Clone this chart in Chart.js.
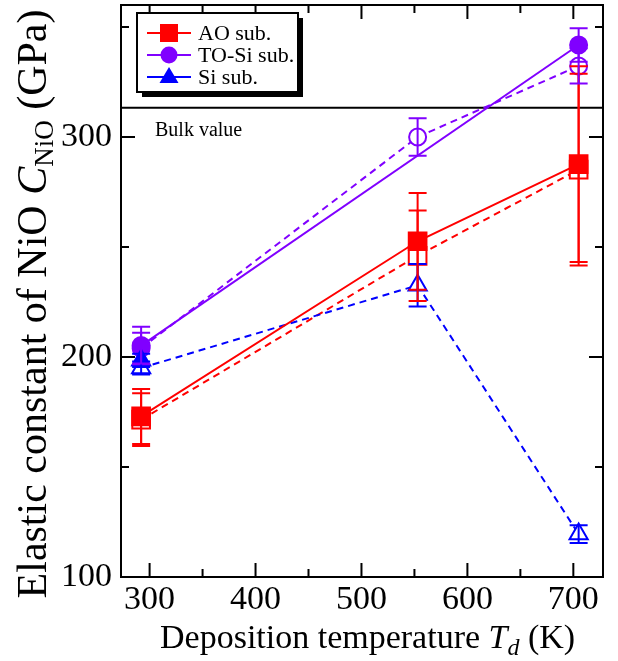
<!DOCTYPE html>
<html>
<head>
<meta charset="utf-8">
<script src="https://cdn.jsdelivr.net/npm/chart.js@4.4.0/dist/chart.umd.min.js"></script>
<style>
  html, body { margin: 0; padding: 0; background: #fff; }
  #wrap { width: 618px; height: 661px; }
</style>
</head>
<body>
<div id="wrap"><canvas id="chartNio" width="618" height="661"></canvas></div>
<script>
// deposition temperatures (K)
const temps = [292, 553, 705];

// elastic constant (GPa) and error, filled = solid line, open = dashed line
const aoFilled = [173, 252.6, 287.7];
const aoFilledErr = [12.5, 22, 44.5];
const aoOpen = [171.5, 246, 285.2];
const aoOpenErr = [12, 20.6, 43.6];

const toFilled = [205.2, null, 341.8];
const toFilledErr = [8.5, null, 7.6];
const toOpen = [204, 300, 332.3];
const toOpenErr = [7, 8.5, 8];

const siFilled = [198.5, null, null];
const siFilledErr = [3, null, null];
const siOpen = [195, 232.6, 119.5];
const siOpenErr = [3, 9.7, 4];

const bulkValue = 313.3;

const xTicks = [300, 400, 500, 600, 700];
const xMinor = [350, 450, 550, 650];
const yTicks = [100, 200, 300];
const yMinor = [150, 250, 350];

const RED = '#ff0000';
const PURPLE = '#8000ff';
const BLUE = '#0000ff';
const SERIF = "'Liberation Serif', 'DejaVu Serif', serif";

const pts = (vals, errs) => temps
  .map((t, i) => ({ x: t, y: vals[i], err: errs[i] }))
  .filter(p => p.y !== null);

const serie = (label, vals, errs, color, style, filled, dashed, order) => ({
  label: label,
  data: pts(vals, errs),
  borderColor: color,
  borderWidth: 2,
  borderDash: dashed ? [7, 5] : [],
  pointStyle: style,
  pointRadius: style === 'rect' ? 12.5 : (style === 'circle' ? 8.5 : 10.5),
  pointBorderWidth: 2,
  pointBorderColor: color,
  pointBackgroundColor: filled ? color : '#ffffff',
  fill: false,
  tension: 0,
  spanGaps: true,
  order: order
});

function drawMarker(ctx, style, x, y, color) {
  ctx.save();
  ctx.fillStyle = color;
  ctx.beginPath();
  if (style === 'rect') {
    ctx.rect(x - 9, y - 9, 18, 18);
  } else if (style === 'circle') {
    ctx.arc(x, y, 8.5, 0, Math.PI * 2);
  } else {
    ctx.moveTo(x, y - 10);
    ctx.lineTo(x + 9.5, y + 6);
    ctx.lineTo(x - 9.5, y + 6);
    ctx.closePath();
  }
  ctx.fill();
  ctx.restore();
}

// draws text pieces one after another: [text, font, dy]
function drawPieces(ctx, pieces, x, y) {
  let cx = x;
  pieces.forEach(p => {
    ctx.font = p[1];
    ctx.fillText(p[0], cx, y + (p[2] || 0));
    cx += ctx.measureText(p[0]).width;
  });
}
function piecesWidth(ctx, pieces) {
  let w = 0;
  pieces.forEach(p => { ctx.font = p[1]; w += ctx.measureText(p[0]).width; });
  return w;
}

const decor = {
  id: 'decor',
  beforeDatasetsDraw(chart) {
    const ctx = chart.ctx, a = chart.chartArea, y = chart.scales.y;
    const by = y.getPixelForValue(bulkValue);
    ctx.save();
    ctx.strokeStyle = '#000';
    ctx.lineWidth = 2;
    ctx.beginPath();
    ctx.moveTo(a.left, by);
    ctx.lineTo(a.right, by);
    ctx.stroke();
    ctx.fillStyle = '#000';
    ctx.font = '20px ' + SERIF;
    ctx.textBaseline = 'alphabetic';
    ctx.fillText('Bulk value', 155, by + 28);
    ctx.restore();
  },
  afterDatasetsDraw(chart) {
    const ctx = chart.ctx, ys = chart.scales.y;
    ctx.save();
    ctx.beginPath();
    ctx.rect(chart.chartArea.left, chart.chartArea.top, chart.chartArea.width, chart.chartArea.height);
    ctx.clip();
    ctx.lineWidth = 2;
    chart.data.datasets.forEach((ds, i) => {
      const meta = chart.getDatasetMeta(i);
      ctx.strokeStyle = ds.borderColor;
      meta.data.forEach((el, j) => {
        const d = ds.data[j];
        if (!d.err) return;
        const top = ys.getPixelForValue(d.y + d.err);
        const bot = ys.getPixelForValue(d.y - d.err);
        ctx.beginPath();
        ctx.moveTo(el.x, top); ctx.lineTo(el.x, bot);
        ctx.moveTo(el.x - 9, top); ctx.lineTo(el.x + 9, top);
        ctx.moveTo(el.x - 9, bot); ctx.lineTo(el.x + 9, bot);
        ctx.stroke();
      });
    });
    ctx.restore();
  },
  afterDraw(chart) {
    const ctx = chart.ctx, a = chart.chartArea;
    const xs = chart.scales.x, ys = chart.scales.y;
    ctx.save();
    ctx.strokeStyle = '#000';
    ctx.lineWidth = 2;
    ctx.strokeRect(a.left, a.top, a.right - a.left, a.bottom - a.top);

    // ticks pointing inward on all four sides
    ctx.beginPath();
    const xt = (v, len) => {
      const px = xs.getPixelForValue(v);
      ctx.moveTo(px, a.bottom); ctx.lineTo(px, a.bottom - len);
      ctx.moveTo(px, a.top); ctx.lineTo(px, a.top + len);
    };
    const yt = (v, len) => {
      const py = ys.getPixelForValue(v);
      ctx.moveTo(a.left, py); ctx.lineTo(a.left + len, py);
      ctx.moveTo(a.right, py); ctx.lineTo(a.right - len, py);
    };
    xTicks.forEach(v => xt(v, 14));
    xMinor.forEach(v => xt(v, 8));
    yTicks.forEach(v => yt(v, 14));
    yMinor.forEach(v => yt(v, 8));
    ctx.stroke();

    // legend box with shadow
    const lx = 137, ly = 13, lw = 161, lh = 79;
    ctx.fillStyle = '#000';
    ctx.fillRect(lx + 5, ly + 5, lw, lh);
    ctx.fillStyle = '#fff';
    ctx.fillRect(lx, ly, lw, lh);
    ctx.strokeRect(lx, ly, lw, lh);
    const items = [
      ['AO sub.', RED, 'rect'],
      ['TO-Si sub.', PURPLE, 'circle'],
      ['Si sub.', BLUE, 'triangle']
    ];
    items.forEach((it, k) => {
      const cy = 33 + k * 22;
      ctx.strokeStyle = it[1];
      ctx.lineWidth = 2;
      ctx.beginPath();
      ctx.moveTo(147, cy); ctx.lineTo(191, cy);
      ctx.stroke();
      drawMarker(ctx, it[2], 169, cy, it[1]);
      ctx.fillStyle = '#000';
      ctx.font = '22px ' + SERIF;
      ctx.textBaseline = 'alphabetic';
      ctx.fillText(it[0], 198, cy + 7);
    });

    // axis titles
    ctx.fillStyle = '#000';
    ctx.textBaseline = 'alphabetic';
    const xt2 = [
      ['Deposition temperature ', '34px ' + SERIF],
      ['T', 'italic 34px ' + SERIF],
      ['d', 'italic 24px ' + SERIF, 7],
      [' (K)', '34px ' + SERIF]
    ];
    drawPieces(ctx, xt2, 160, 648);

    const yt2 = [
      ['Elastic constant of NiO ', '42px ' + SERIF],
      ['C', 'italic 42px ' + SERIF],
      ['NiO', '27px ' + SERIF, 7],
      [' (GPa)', '42px ' + SERIF]
    ];
    const yw = piecesWidth(ctx, yt2);
    ctx.translate(46, 304);
    ctx.rotate(-Math.PI / 2);
    drawPieces(ctx, yt2, -yw / 2, 0);
    ctx.restore();
  }
};

const ctx = document.getElementById('chartNio');
const chartNio = new Chart(ctx, {
  type: 'line',
  data: {
    datasets: [
      serie('Si sub.', siFilled, siFilledErr, BLUE, 'triangle', true, false, 0),
      serie('AO sub.', aoFilled, aoFilledErr, RED, 'rect', true, false, 1),
      serie('TO-Si sub.', toFilled, toFilledErr, PURPLE, 'circle', true, false, 2),
      serie('Si sub. (open)', siOpen, siOpenErr, BLUE, 'triangle', false, true, 3),
      serie('AO sub. (open)', aoOpen, aoOpenErr, RED, 'rect', false, true, 4),
      serie('TO-Si sub. (open)', toOpen, toOpenErr, PURPLE, 'circle', false, true, 5)
    ]
  },
  options: {
    responsive: false,
    animation: false,
    devicePixelRatio: 1,
    layout: { autoPadding: false, padding: { top: 5, right: 15, left: 0, bottom: 0 } },
    plugins: { legend: { display: false }, tooltip: { enabled: false } },
    scales: {
      x: {
        type: 'linear',
        min: 273,
        max: 728,
        afterBuildTicks: s => { s.ticks = xTicks.map(v => ({ value: v })); },
        afterFit: s => { s.height = 84; s.paddingLeft = 0; s.paddingRight = 0; },
        grid: { display: false, drawTicks: false },
        border: { display: false },
        ticks: { color: '#000', padding: 3, maxRotation: 0, font: { family: SERIF, size: 34 } }
      },
      y: {
        min: 100,
        max: 360,
        afterBuildTicks: s => { s.ticks = yTicks.map(v => ({ value: v })); },
        afterFit: s => { s.width = 121; s.paddingTop = 0; s.paddingBottom = 0; },
        grid: { display: false, drawTicks: false },
        border: { display: false },
        ticks: { color: '#000', padding: 9, font: { family: SERIF, size: 34 } }
      }
    }
  },
  plugins: [decor]
});
</script>
</body>
</html>
